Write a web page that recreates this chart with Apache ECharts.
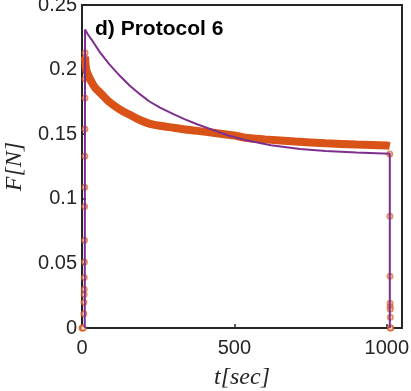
<!DOCTYPE html>
<html lang="en">
<head>
    <meta charset="UTF-8">
    <title>Protocol 6</title>
    <script src="https://cdn.jsdelivr.net/npm/echarts@6/dist/echarts.min.js"></script>
    <style>
        html, body { margin: 0; padding: 0; background: #fff; }
        #main { width: 411px; height: 391px; }
    </style>
</head>
<body>
<div id="main"></div>
<script type="text/javascript">
    // ticks
    var xTicks = [0, 500, 1000];
    var yTicks = [0, 0.05, 0.1, 0.15, 0.2, 0.25];

    // measured force (orange) - ramp up, hold, release
    var rampT = [0, 2, 4, 6, 6.5, 7, 7.2, 7.5, 8, 8.3, 8.6, 8.9, 9.2, 9.5, 9.7, 9.8, 9.9, 10];
    var rampF = [0, 0, 0, 0.011, 0.020, 0.026, 0.030, 0.039, 0.051, 0.068, 0.094, 0.109, 0.133, 0.154, 0.178, 0.193, 0.209, 0.213];
    var holdT = [10, 12, 15, 20, 30, 43, 60, 92, 125, 157, 190, 223, 256, 300, 338, 400, 436, 500, 535, 600, 700, 800, 900, 1000, 1010];
    var holdF = [0.210, 0.203, 0.199, 0.196, 0.191, 0.186, 0.182, 0.1745, 0.169, 0.165, 0.161, 0.158, 0.1565, 0.155, 0.1537, 0.152, 0.151, 0.149, 0.1473, 0.146, 0.1443, 0.143, 0.142, 0.1413, 0.141];
    var dropT = [1010, 1010.3, 1010.6, 1010.9, 1011.2, 1011.5, 1011.8, 1012, 1013];
    var dropF = [0.1346, 0.0864, 0.040, 0.0192, 0.0165, 0.0145, 0.0083, 0, 0];

    // model force (purple)
    var modelT = [9, 10, 20, 35, 59, 90, 125, 157, 190, 220, 256, 300, 338, 380, 436, 480, 535, 620, 715, 800, 900, 1010, 1010];
    var modelF = [0, 0.231, 0.227, 0.222, 0.2133, 0.204, 0.195, 0.1875, 0.181, 0.1755, 0.1705, 0.1655, 0.1615, 0.1575, 0.1528, 0.149, 0.1455, 0.1415, 0.1385, 0.137, 0.1358, 0.1349, 0];

    function pairs(t, f) {
        return t.map(function (v, i) { return [v, f[i]]; });
    }

    var orange = '#D95319';
    var purple = '#7E2F8E';
    var axisColor = '#262626';

    var myChart = echarts.init(document.getElementById('main'));

    var option = {
        animation: false,
        title: {
            text: 'd) Protocol 6',
            left: 90,
            top: 14,
            textStyle: { fontFamily: 'Liberation Sans', fontWeight: 'bold', fontSize: 21, color: '#000' }
        },
        grid: {
            left: 82, right: 9, top: 5, bottom: 63,
            outerBoundsMode: 'none',
            show: true, borderColor: axisColor, borderWidth: 2
        },
        xAxis: {
            type: 'value',
            min: 0,
            max: 1050,
            interval: 500,
            name: 't[sec]',
            nameLocation: 'middle',
            nameGap: 38,
            nameTextStyle: { fontFamily: 'Liberation Serif', fontStyle: 'italic', fontSize: 24, color: axisColor },
            axisLine: { show: true, onZero: false, lineStyle: { color: axisColor, width: 2 } },
            axisTick: { show: true, inside: true, length: 4, lineStyle: { color: axisColor, width: 1.5 } },
            axisLabel: {
                margin: 10,
                showMaxLabel: false,
                fontFamily: 'Liberation Sans',
                fontSize: 20,
                color: axisColor,
                formatter: function (v) { return xTicks.indexOf(v) >= 0 ? String(v) : ''; }
            },
            splitLine: { show: false }
        },
        yAxis: {
            type: 'value',
            min: 0,
            max: 0.25,
            interval: 0.05,
            name: 'F[N]',
            nameLocation: 'middle',
            nameGap: 48,
            nameTextStyle: { fontFamily: 'Liberation Serif', fontStyle: 'italic', fontSize: 24, color: axisColor },
            axisLine: { show: true, onZero: false, lineStyle: { color: axisColor, width: 2 } },
            axisTick: { show: true, inside: true, length: 4, lineStyle: { color: axisColor, width: 1.5 } },
            axisLabel: {
                margin: 5,
                fontFamily: 'Liberation Sans',
                fontSize: 20,
                color: axisColor,
                formatter: function (v) { return String(+v.toFixed(2)); }
            },
            splitLine: { show: false }
        },
        series: [
            {
                name: 'measured hold',
                type: 'line',
                data: pairs(holdT, holdF),
                showSymbol: false,
                smooth: 0.3,
                lineStyle: { color: orange, width: 8 }
            },
            {
                name: 'measured ramp',
                type: 'scatter',
                data: pairs(rampT, rampF).concat(pairs(dropT, dropF)),
                symbol: 'emptyCircle',
                symbolSize: 5,
                itemStyle: { color: orange, borderColor: orange, borderWidth: 1, opacity: 0.65 }
            },
            {
                name: 'model',
                type: 'line',
                data: pairs(modelT, modelF),
                showSymbol: false,
                lineStyle: { color: purple, width: 2 }
            }
        ]
    };

    myChart.setOption(option);
</script>
</body>
</html>
